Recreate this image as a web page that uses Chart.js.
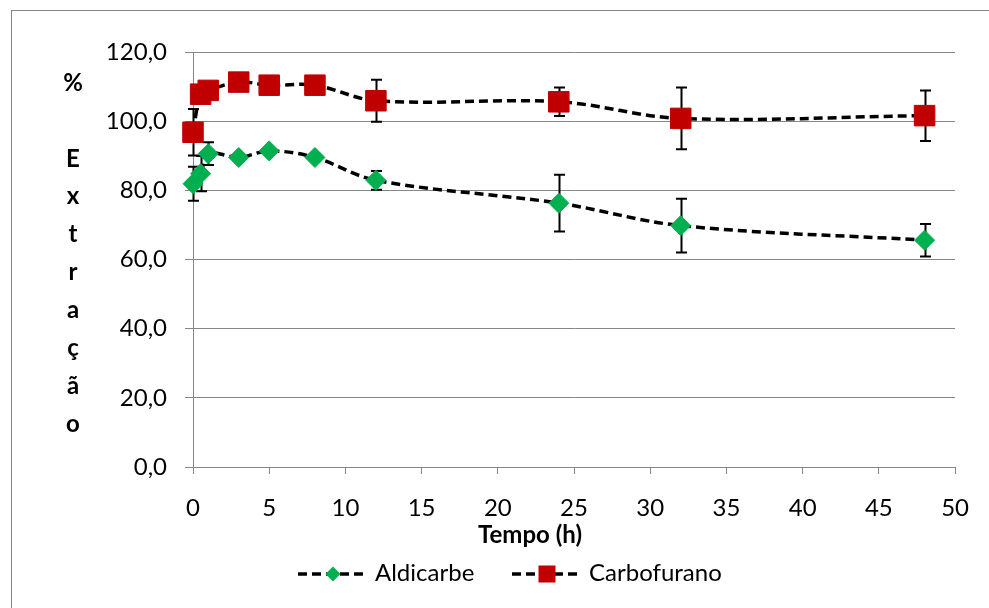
<!DOCTYPE html>
<html>
<head>
<meta charset="utf-8">
<script src="https://cdn.jsdelivr.net/npm/chart.js@4.4.1/dist/chart.umd.min.js"></script>
<style>
  html, body { margin: 0; padding: 0; background: #fff; }
  canvas { display: block; }
</style>
</head>
<body>
<canvas id="grafico" width="989" height="608"></canvas>
<script>
// dados
const tempo = [0, 0.5, 1, 3, 5, 8, 12, 24, 32, 48];
const aldicarbe = [81.9, 84.8, 90.6, 89.5, 91.4, 89.5, 82.9, 76.3, 69.8, 65.6];
const aldicarbeErro = [4.9, 5.1, 3.3, 1.0, 1.0, 1.0, 2.7, 8.2, 7.8, 4.7];
const carbofurano = [96.8, 107.8, 108.9, 111.3, 110.4, 110.4, 105.9, 105.6, 100.8, 101.6];
const carbofuranoErro = [6.7, 1.5, 1.5, 1.5, 1.5, 1.5, 6.1, 4.1, 8.9, 7.3];
const yTitulo = ['%', '', 'E', 'x', 't', 'r', 'a', 'ç', 'ã', 'o'];

const cinza = '#868686';
const fonte = 'Lato';

const pontos = (ys) => tempo.map((t, i) => ({ x: t, y: ys[i] }));

// barras de erro, desenho de títulos e legenda
const extras = {
  id: 'extras',
  beforeDraw(chart) {
    const ctx = chart.ctx;
    ctx.save();
    ctx.strokeStyle = cinza;
    ctx.lineWidth = 1;
    ctx.strokeRect(11.5, 10.5, 1200, 1200);
    ctx.restore();
  },
  beforeDatasetsDraw(chart) {
    const ctx = chart.ctx;
    const xs = chart.scales.x, ys = chart.scales.y;
    const series = [[aldicarbe, aldicarbeErro], [carbofurano, carbofuranoErro]];
    ctx.save();
    ctx.strokeStyle = '#000';
    ctx.lineWidth = 2;
    series.forEach(([vals, errs]) => {
      vals.forEach((v, i) => {
        const px = Math.round(xs.getPixelForValue(tempo[i])) + 0.5;
        const top = ys.getPixelForValue(v + errs[i]);
        const bot = ys.getPixelForValue(v - errs[i]);
        ctx.beginPath();
        ctx.moveTo(px, top); ctx.lineTo(px, bot);
        ctx.moveTo(px - 5.5, top); ctx.lineTo(px + 5.5, top);
        ctx.moveTo(px - 5.5, bot); ctx.lineTo(px + 5.5, bot);
        ctx.stroke();
      });
    });
    ctx.restore();
  },
  afterDraw(chart) {
    const ctx = chart.ctx;
    ctx.save();
    ctx.fillStyle = '#000';
    ctx.font = 'bold 24px ' + fonte;
    ctx.textAlign = 'center';
    ctx.textBaseline = 'middle';
    yTitulo.forEach((c, i) => ctx.fillText(c, 73, 83 + i * 37.9));
    ctx.textBaseline = 'alphabetic';
    ctx.fillText('Tempo (h)', 530, 543);

    // legenda
    const itens = [
      { nome: 'Aldicarbe', x0: 298, cor: '#00b050', forma: 'diamante' },
      { nome: 'Carbofurano', x0: 512, cor: '#c00000', forma: 'quadrado' }
    ];
    const ly = 574;
    itens.forEach(it => {
      ctx.strokeStyle = '#000';
      ctx.lineWidth = 3.5;
      ctx.setLineDash([9, 5]);
      ctx.beginPath();
      ctx.moveTo(it.x0, ly); ctx.lineTo(it.x0 + 70, ly);
      ctx.stroke();
      ctx.setLineDash([]);
      const cx = it.x0 + 35;
      ctx.fillStyle = it.cor;
      if (it.forma === 'diamante') {
        ctx.beginPath();
        ctx.moveTo(cx, ly - 7.5); ctx.lineTo(cx + 7.5, ly);
        ctx.lineTo(cx, ly + 7.5); ctx.lineTo(cx - 7.5, ly);
        ctx.closePath(); ctx.fill();
      } else {
        ctx.fillRect(cx - 8.5, ly - 8.5, 17, 17);
      }
      ctx.fillStyle = '#000';
      ctx.font = '24px ' + fonte;
      ctx.textAlign = 'left';
      ctx.fillText(it.nome, it.x0 + 77, 581);
    });
    ctx.restore();
  }
};

const linha = {
  borderColor: '#000',
  borderWidth: 3.5,
  borderDash: [9, 5],
  tension: 0.35,
  fill: false,
  clip: false
};

new Chart(document.getElementById('grafico'), {
  type: 'line',
  data: {
    datasets: [
      Object.assign({}, linha, {
        label: 'Aldicarbe',
        data: pontos(aldicarbe),
        pointStyle: 'rectRot',
        pointRadius: 10,
        pointBackgroundColor: '#00b050',
        pointBorderColor: '#00b050',
        pointBorderWidth: 1,
        order: 1
      }),
      Object.assign({}, linha, {
        label: 'Carbofurano',
        data: pontos(carbofurano),
        pointStyle: 'rect',
        pointRadius: 14.5,
        pointBackgroundColor: '#c00000',
        pointBorderColor: '#c00000',
        pointBorderWidth: 1,
        order: 0
      })
    ]
  },
  options: {
    responsive: false,
    devicePixelRatio: 1,
    animation: false,
    layout: { padding: { left: 0, top: 52, right: 32, bottom: 0 } },
    plugins: {
      legend: { display: false },
      tooltip: { enabled: false }
    },
    scales: {
      x: {
        type: 'linear',
        min: 0,
        max: 50,
        ticks: { stepSize: 5, color: '#000', font: { family: fonte, size: 24 }, padding: 20, maxRotation: 0 },
        grid: { drawOnChartArea: false, drawTicks: true, tickLength: 7, color: cinza },
        border: { color: cinza },
        afterFit(s) { s.height = 141; }
      },
      y: {
        min: 0,
        max: 120,
        ticks: {
          stepSize: 20,
          color: '#000',
          font: { family: fonte, size: 24 },
          padding: 18,
          callback: v => v.toFixed(1).replace('.', ',')
        },
        grid: { color: cinza, tickLength: 8 },
        border: { color: cinza },
        afterFit(s) { s.width = 193; }
      }
    }
  },
  plugins: [extras]
});
</script>
</body>
</html>
